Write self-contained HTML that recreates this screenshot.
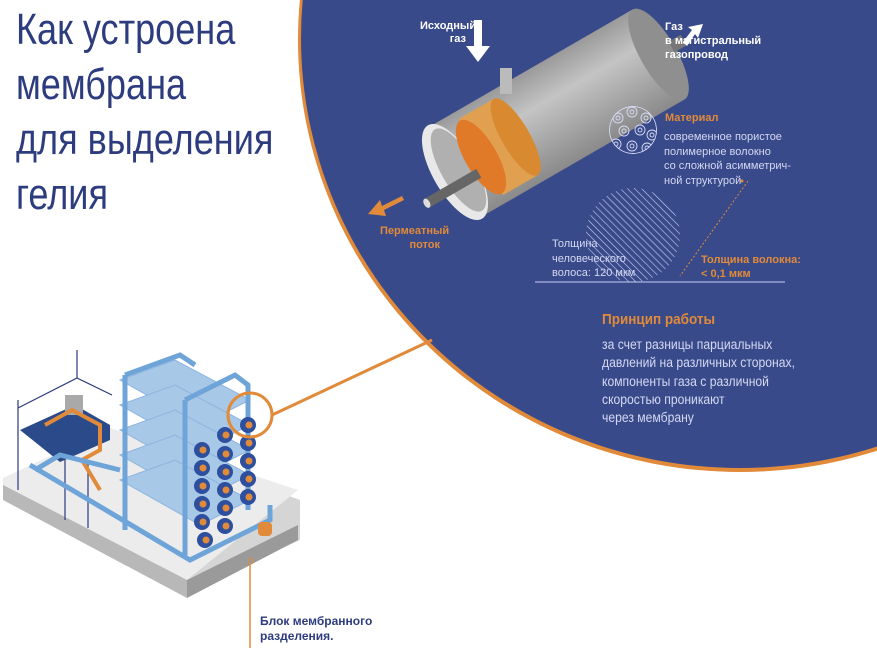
<!DOCTYPE html>
<html><head><meta charset="utf-8"><style>
html,body{margin:0;padding:0;background:#fff;}
body{width:877px;height:648px;overflow:hidden;position:relative;font-family:"Liberation Sans",sans-serif;}
.t{position:absolute;white-space:nowrap;}
</style></head><body>
<svg width="877" height="648" style="position:absolute;left:0;top:0">
<defs>
<pattern id="hatch" width="5" height="5" patternUnits="userSpaceOnUse" patternTransform="rotate(-45)">
<line x1="0" y1="0" x2="0" y2="5" stroke="#c9cef0" stroke-width="1.2"/></pattern>
<linearGradient id="cyl" x1="0" y1="0" x2="0" y2="1">
<stop offset="0" stop-color="#9a9a9a"/><stop offset="0.35" stop-color="#c4c4c4"/><stop offset="1" stop-color="#8a8a8a"/></linearGradient>
<clipPath id="cc"><ellipse cx="633" cy="130" rx="24" ry="24"/></clipPath>
</defs>
<ellipse cx="740" cy="40" rx="442" ry="432" fill="#e08a3a"/>
<ellipse cx="740" cy="38" rx="439" ry="430" fill="#394a8b"/>
<line x1="432" y1="340" x2="272" y2="415" stroke="#e08a3a" stroke-width="3"/>
<g transform="translate(455,172) rotate(-30)">
<rect x="0" y="-52" width="235" height="104" fill="url(#cyl)"/>
<ellipse cx="235" cy="0" rx="18" ry="52" fill="#8f8f8f"/>
<rect x="250" y="-6" width="14" height="12" fill="#777"/>
<ellipse cx="0" cy="0" rx="22" ry="54" fill="#e8e8e8"/>
<ellipse cx="4" cy="0" rx="17" ry="47" fill="#b0b0b0"/>
<rect x="30" y="-44" width="40" height="88" fill="#e0a050"/>
<ellipse cx="70" cy="0" rx="14" ry="44" fill="#d98a30"/>
<ellipse cx="30" cy="0" rx="16" ry="42" fill="#e07a28"/>
<rect x="-40" y="8" width="60" height="10" fill="#666"/>
<ellipse cx="-40" cy="13" rx="3" ry="5" fill="#ddd"/>
</g>
<rect x="500" y="68" width="12" height="26" fill="#bbb"/>
<polygon points="474,20 482,20 482,46 490,46 478,62 466,46 474,46" fill="#fff"/>
<polygon points="683,42 692,30 688,27 703,24 698,38 695,34 687,46" fill="#fff"/>
<polygon points="402,196 382,206 380,200 368,214 386,216 384,210 404,200" fill="#e08a3a"/>
<g clip-path="url(#cc)" fill="none" stroke="#d8dcf5" stroke-width="0.9">
<circle cx="633" cy="130" r="23.5"/>
<circle cx="618" cy="118" r="5"/><circle cx="618" cy="118" r="2"/>
<circle cx="632" cy="112" r="5"/><circle cx="632" cy="112" r="2"/>
<circle cx="646" cy="118" r="5"/><circle cx="646" cy="118" r="2"/>
<circle cx="624" cy="131" r="5"/><circle cx="624" cy="131" r="2"/>
<circle cx="640" cy="130" r="5"/><circle cx="640" cy="130" r="2"/>
<circle cx="652" cy="135" r="5"/><circle cx="652" cy="135" r="2"/>
<circle cx="616" cy="144" r="5"/><circle cx="616" cy="144" r="2"/>
<circle cx="632" cy="146" r="5"/><circle cx="632" cy="146" r="2"/>
<circle cx="647" cy="148" r="5"/><circle cx="647" cy="148" r="2"/>
</g>
<circle cx="633" cy="235" r="47" fill="url(#hatch)"/>
<line x1="535" y1="282" x2="785" y2="282" stroke="#c9cef0" stroke-width="1"/>
<line x1="748" y1="181" x2="680" y2="276" stroke="#e08a3a" stroke-width="1" stroke-dasharray="2,2"/>
<circle cx="742" cy="181" r="1.5" fill="#e08a3a"/>
<!-- machine -->
<polygon points="3,480 110,430 300,500 300,540 187,592 3,497" fill="#d5d5d5"/>
<polygon points="3,478 110,428 298,490 187,580 3,485" fill="#ececec"/>
<polygon points="3,485 187,580 187,598 3,500" fill="#b8b8b8"/>
<polygon points="187,580 298,525 298,540 187,598" fill="#9a9a9a"/>
<g stroke="#2b3a80" stroke-width="1.2" fill="none">
<polyline points="18,400 18,490"/><polyline points="77,350 77,378"/>
<polyline points="18,408 77,378 112,395"/>
<polyline points="65,440 65,520"/><polyline points="88,460 88,528"/>
</g>
<polygon points="20,430 75,405 110,425 110,440 60,462" fill="#2a4a8a"/>
<rect x="65" y="395" width="18" height="20" fill="#a9a9a9"/>
<g fill="none" stroke="#e08a3a" stroke-width="4">
<polyline points="45,425 72,410 100,425 100,450 82,460 100,490"/>
</g>
<g fill="#a8c8e8" stroke="#8db5de" stroke-width="1">
<polygon points="120,380 175,360 250,400 200,425"/>
<polygon points="120,405 175,385 250,425 200,450"/>
<polygon points="120,430 175,410 250,450 200,475"/>
<polygon points="120,455 175,435 250,475 200,500"/>
<polygon points="120,480 175,460 250,500 200,525"/>
</g>
<g fill="none" stroke="#6fa4d8" stroke-width="5">
<polyline points="35,470 60,455 120,470"/>
<polyline points="30,465 190,560 270,520 270,505"/>
<polyline points="125,375 125,530"/>
<polyline points="125,375 180,355 195,365"/>
<polyline points="185,400 235,375 248,385 248,510"/>
<polyline points="185,400 185,555"/>
</g>
<g>
<g fill="#2d4f9e"><circle cx="248" cy="425" r="8"/><circle cx="248" cy="443" r="8"/><circle cx="248" cy="461" r="8"/><circle cx="248" cy="479" r="8"/><circle cx="248" cy="497" r="8"/>
<circle cx="225" cy="435" r="8"/><circle cx="225" cy="454" r="8"/><circle cx="225" cy="472" r="8"/><circle cx="225" cy="490" r="8"/><circle cx="225" cy="508" r="8"/><circle cx="225" cy="526" r="8"/>
<circle cx="202" cy="450" r="8"/><circle cx="202" cy="468" r="8"/><circle cx="202" cy="486" r="8"/><circle cx="202" cy="504" r="8"/><circle cx="202" cy="522" r="8"/><circle cx="205" cy="540" r="8"/></g>
<g fill="#e08a3a"><circle cx="249" cy="425" r="3.5"/><circle cx="249" cy="443" r="3.5"/><circle cx="249" cy="461" r="3.5"/><circle cx="249" cy="479" r="3.5"/><circle cx="249" cy="497" r="3.5"/>
<circle cx="226" cy="435" r="3.5"/><circle cx="226" cy="454" r="3.5"/><circle cx="226" cy="472" r="3.5"/><circle cx="226" cy="490" r="3.5"/><circle cx="226" cy="508" r="3.5"/><circle cx="226" cy="526" r="3.5"/>
<circle cx="203" cy="450" r="3.5"/><circle cx="203" cy="468" r="3.5"/><circle cx="203" cy="486" r="3.5"/><circle cx="203" cy="504" r="3.5"/><circle cx="203" cy="522" r="3.5"/><circle cx="206" cy="540" r="3.5"/></g>
</g>
<rect x="258" y="522" width="14" height="14" rx="4" fill="#e08a3a"/>
<circle cx="250" cy="415" r="22" fill="none" stroke="#e08a3a" stroke-width="3"/>
<line x1="250" y1="563" x2="250" y2="648" stroke="#e08a3a" stroke-width="1.5"/>
<circle cx="251" cy="561" r="2.5" fill="none" stroke="#e08a3a" stroke-width="1"/>
</svg>

<div class="t" style="left:16px;top:2px;font-size:44px;line-height:55px;color:#2d3c7e;transform:scaleX(0.82);transform-origin:0 0;">Как устроена<br>мембрана<br>для выделения<br>гелия</div>

<div class="t" style="left:420px;top:20px;width:46px;text-align:right;font-size:11px;font-weight:bold;line-height:13px;color:#fff;">Исходный<br>газ</div>
<div class="t" style="left:665px;top:20px;font-size:11px;font-weight:bold;line-height:14px;color:#fff;">Газ<br>в магистральный<br>газопровод</div>
<div class="t" style="left:380px;top:224px;width:60px;text-align:right;font-size:11px;font-weight:bold;line-height:14px;color:#e08a3a;">Пермеатный<br>поток</div>
<div class="t" style="left:665px;top:112px;font-size:11px;font-weight:bold;color:#e08a3a;">Материал</div>
<div class="t" style="left:664px;top:130px;font-size:11px;line-height:14.5px;color:#d4d8f2;">современное пористое<br>полимерное волокно<br>со сложной асимметрич-<br>ной структурой</div>
<div class="t" style="left:552px;top:237px;font-size:11px;line-height:14.5px;color:#d4d8f2;">Толщина<br>человеческого<br>волоса: 120 мкм</div>
<div class="t" style="left:701px;top:253px;font-size:11px;font-weight:bold;line-height:14px;color:#e08a3a;">Толщина волокна:<br>&lt; 0,1 мкм</div>
<div class="t" style="left:602px;top:311px;font-size:15px;font-weight:bold;color:#e08a3a;transform:scaleX(0.9);transform-origin:0 0;">Принцип работы</div>
<div class="t" style="left:602px;top:336px;font-size:13.5px;line-height:18.3px;color:#d4d8f2;transform:scaleX(0.9);transform-origin:0 0;">за счет разницы парциальных<br>давлений на различных сторонах,<br>компоненты газа с различной<br>скоростью проникают<br>через мембрану</div>
<div class="t" style="left:260px;top:614px;font-size:12px;font-weight:bold;line-height:15px;color:#2d3c7e;">Блок мембранного<br>разделения.</div>
</body></html>
